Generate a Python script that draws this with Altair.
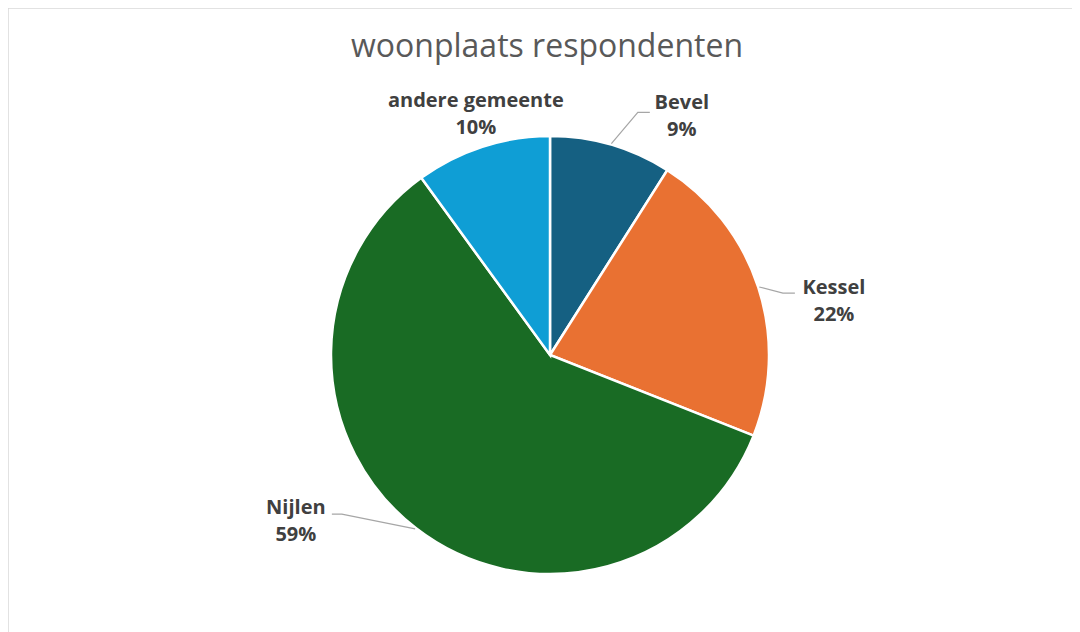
import numpy as np
import pandas as pd
import altair as alt

# ---- data ----
categories = ["Bevel", "Kessel", "Nijlen", "andere gemeente"]
percentages = [9, 22, 59, 10]
colors = ["#156082", "#E97132", "#196B24", "#0F9ED5"]
title_text = "woonplaats respondenten"

# ---- layout (pixels) ----
W, H = 1064, 630
OFF = 8
CX, CY = 550 - OFF, 355 - OFF
R = 219
LH = 27
# leader layout per label: (elbow angle shift deg, elbow radius, horizontal length, label dx, label dy)
leader_layout = {
    "Bevel": (3.7, 258, 12, 32, 4),
    "Kessel": (3.1, 241, 12, 39, 8),
    "Nijlen": (14.8, 262, -10, -36, 7),
}
free_label_r = {"andere gemeente": 253}

vals = np.array(percentages, dtype=float)
mid_deg = (np.cumsum(vals) - vals / 2) / vals.sum() * 360.0


def polar(deg, r):
    a = np.deg2rad(deg)
    return CX + r * np.sin(a), CY - r * np.cos(a)


pie_df = pd.DataFrame({
    "cat": categories,
    "pct": percentages,
    "idx": list(range(len(categories))),
})

line_rows = []
label_rows = []
for i, c in enumerate(categories):
    m = mid_deg[i]
    text = f"{c}\n{percentages[i]}%"
    if c in leader_layout:
        sh, re_, hl, ldx, ldy = leader_layout[c]
        sx, sy = polar(m, R + 1)
        ex, ey = polar(m + sh, re_)
        line_rows += [
            {"cat": c, "o": 0, "x": sx, "y": sy},
            {"cat": c, "o": 1, "x": ex, "y": ey},
            {"cat": c, "o": 2, "x": ex + hl, "y": ey},
        ]
        label_rows.append({"cat": c, "text": text, "x": ex + hl + ldx, "y": ey + ldy - LH / 2})
    else:
        lx, ly = polar(m, free_label_r[c])
        label_rows.append({"cat": c, "text": text, "x": lx + 4, "y": ly - LH / 2})

line_df = pd.DataFrame(line_rows)
label_df = pd.DataFrame(label_rows)

xs = alt.Scale(domain=[0, W], range=[0, W], nice=False, zero=False)
ys = alt.Scale(domain=[0, H], range=[0, H], nice=False, zero=False)

pie = alt.Chart(pie_df).mark_arc(
    outerRadius=R, stroke="white", strokeWidth=2.5
).encode(
    theta=alt.Theta("pct:Q", stack=True),
    color=alt.Color("cat:N", scale=alt.Scale(domain=categories, range=colors), legend=None),
    order=alt.Order("idx:Q"),
    x=alt.value(CX),
    y=alt.value(CY),
)

leaders = alt.Chart(line_df).mark_line(color="#a6a6a6", strokeWidth=1.2).encode(
    x=alt.X("x:Q", scale=xs, axis=None),
    y=alt.Y("y:Q", scale=ys, axis=None),
    detail="cat:N",
    order="o:Q",
)

labels = alt.Chart(label_df).mark_text(
    font="Open Sans", fontSize=20, fontWeight="bold", color="#404040",
    align="center", baseline="middle", lineBreak="\n", lineHeight=LH,
).encode(
    x=alt.X("x:Q", scale=xs, axis=None),
    y=alt.Y("y:Q", scale=ys, axis=None),
    text="text:N",
)

title = alt.Chart(pd.DataFrame({"t": [title_text]})).mark_text(
    font="Open Sans", fontSize=32, color="#595959", align="center", baseline="middle",
).encode(
    x=alt.value(547 - OFF),
    y=alt.value(47 - OFF),
    text="t:N",
)

# chart frame: only top and left edges are visible in the reference
frame_top = alt.Chart(pd.DataFrame({"k": [0]})).mark_rule(color="#d9d9d9", strokeWidth=1.5).encode(
    x=alt.value(0), x2=alt.value(W), y=alt.value(0)
)
frame_left = alt.Chart(pd.DataFrame({"k": [0]})).mark_rule(color="#d9d9d9", strokeWidth=1.5).encode(
    x=alt.value(0), y=alt.value(0), y2=alt.value(H)
)

chart = alt.layer(frame_top, frame_left, pie, leaders, labels, title).properties(
    width=W, height=H, padding=0, autosize=alt.AutoSizeParams(type="none"),
    background="white",
).configure_view(stroke=None)

chart.save("out.html", embed_options={"renderer": "svg", "actions": False})
